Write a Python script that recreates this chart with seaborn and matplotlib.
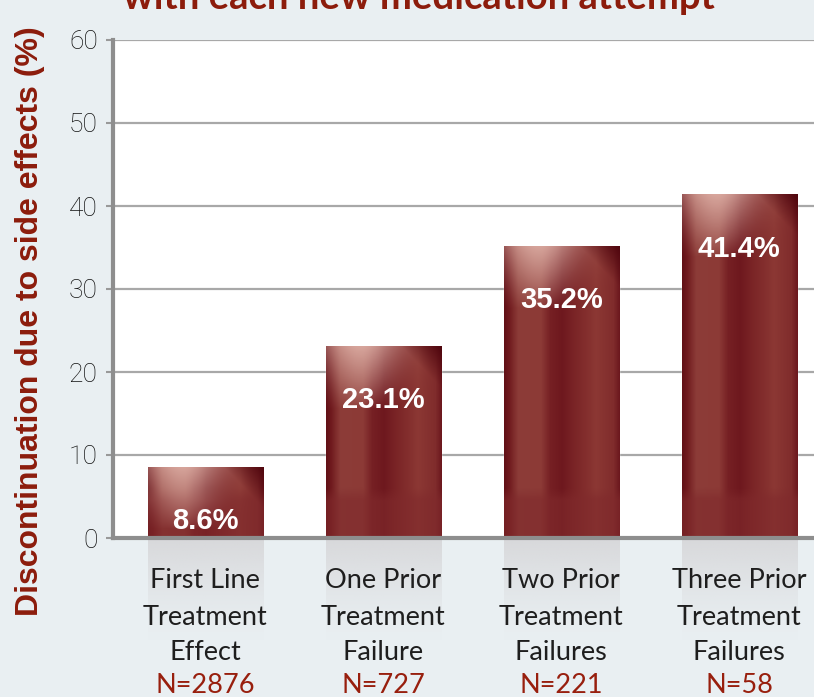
import numpy as np
import pandas as pd
import matplotlib
matplotlib.use("Agg")
import matplotlib.pyplot as plt
import seaborn as sns

# data
categories = ["First Line\nTreatment\nEffect",
              "One Prior\nTreatment\nFailure",
              "Two Prior\nTreatment\nFailures",
              "Three Prior\nTreatment\nFailures"]
discontinuation = [8.6, 23.1, 35.2, 41.4]
n_patients = [2876, 727, 221, 58]
y_ticks = [0, 10, 20, 30, 40, 50, 60]

BG = "#e9eff2"
DARK_RED = "#8c1c0c"
N_RED = "#981f0e"

sns.set_theme(style="white")
plt.rcParams["font.family"] = ["Lato", "DejaVu Sans"]

df = pd.DataFrame({"cat": range(len(categories)), "value": discontinuation})

fig = plt.figure(figsize=(8.14, 6.97), dpi=100)
fig.patch.set_facecolor(BG)
ax = fig.add_axes([113 / 814, 1 - 538 / 697, 1 - 113 / 814, 498 / 697])
ax.set_facecolor("white")

sns.barplot(data=df, x="cat", y="value", color="#7a1c22", width=0.646,
            saturation=1, ax=ax, zorder=3)


def bar_image(h, nrows=300, ncols=120):
    # glossy dark-red fill: vertical stripes + pale glow at the top
    u = np.linspace(0, 1, ncols)
    d = np.linspace(0, h, nrows)[:, None]
    pu = [0, 0.04, 0.12, 0.32, 0.40, 0.50, 0.60, 0.80, 0.95, 1]
    R = np.interp(u, pu, [98, 112, 140, 140, 118, 110, 122, 140, 128, 108])
    G = np.interp(u, pu, [16, 26, 60, 58, 32, 24, 36, 56, 44, 24])
    B = np.interp(u, pu, [22, 30, 56, 54, 36, 30, 38, 52, 44, 30])
    img = np.stack([np.tile(R, (nrows, 1)), np.tile(G, (nrows, 1)),
                    np.tile(B, (nrows, 1))], axis=-1)
    # flatter lower band
    low = np.clip((d - (h - 6.0)) / 1.5, 0, 1)[..., None]
    img = img * (1 - 0.6 * low) + np.array([128, 42, 44]) * 0.6 * low
    # pale glow at top, narrowing downwards
    width = 0.36 - 0.02 * d
    glow = np.exp(-((u - 0.30) / np.clip(width, 0.05, None)) ** 2)
    glow = glow * np.clip(1 - d / 7.5, 0, 1) ** 0.8
    glow = (0.9 * glow)[..., None]
    img = img * (1 - glow) + np.array([224, 178, 168]) * glow
    # dark top-right corner
    corner = np.clip(1 - ((1 - u) / 0.35 + d / 5.0), 0, 1)[..., None]
    img = img * (1 - corner) + np.array([80, 6, 14]) * corner
    return np.clip(img, 0, 255).astype(np.uint8)


def reflection_image(nrows=100):
    a = np.linspace(0.75, 0.0, nrows) ** 1.3
    img = np.zeros((nrows, 2, 4))
    img[..., 0] = 208 / 255
    img[..., 1] = 206 / 255
    img[..., 2] = 208 / 255
    img[..., 3] = a[:, None]
    return img


for patch in ax.patches:
    x0, w, h = patch.get_x(), patch.get_width(), patch.get_height()
    im = ax.imshow(bar_image(h), extent=[x0, x0 + w, 0, h], origin="upper",
                   aspect="auto", zorder=4, interpolation="bilinear")
    im.set_clip_path(patch)
    ax.imshow(reflection_image(), extent=[x0, x0 + w, -12.5, 0], origin="upper",
              aspect="auto", zorder=1, clip_on=False, interpolation="bilinear")

for i, v in enumerate(discontinuation):
    ax.annotate(f"{v}%", (i, v), xytext=(0, -39), textcoords="offset points",
                ha="center", va="center", color="white", fontsize=21,
                fontweight="bold", fontstretch="condensed", zorder=6,
                family=["Liberation Sans Narrow", "Liberation Sans", "DejaVu Sans"])

ax.set_xlim(-0.517, 3.42)
ax.set_ylim(0, 60)
ax.set_yticks(y_ticks)
ax.set_yticklabels([str(t) for t in y_ticks], fontsize=19, color="#111111",
                   fontweight="light", family=["Roboto", "DejaVu Sans"])
ax.tick_params(axis="y", length=5, width=1.5, color="#999999", pad=6, left=True)
ax.set_xticks([])
ax.set_xlabel("")
ax.set_ylabel("")
ax.yaxis.grid(True, color="#a8a8a8", linewidth=1.6, zorder=0)
ax.set_axisbelow(True)
for s in ["top", "right"]:
    ax.spines[s].set_visible(False)
for s in ["left", "bottom"]:
    ax.spines[s].set_color("#8e8e8e")
    ax.spines[s].set_linewidth(3)
    ax.spines[s].set_zorder(5)

# category labels (3 lines) and N counts below
line_y = [-0.1004, -0.1747, -0.2450]
tr = ax.get_xaxis_transform()
for i, (lab, n) in enumerate(zip(categories, n_patients)):
    for line, yy in zip(lab.split("\n"), line_y):
        ax.text(i, yy, line, transform=tr, ha="center", va="baseline",
                fontsize=19.5, color="#1e1e1e", clip_on=False, zorder=7)
    ax.text(i, -0.3112, f"N={n}", transform=tr, ha="center", va="baseline",
            fontsize=19.5, color=N_RED, clip_on=False, zorder=7)

fig.text(30 / 814, 1 - 321 / 697, "Discontinuation due to side effects (%)",
         rotation=90, ha="center", va="center", fontsize=23, fontweight="bold",
         color=DARK_RED, family=["Liberation Sans", "DejaVu Sans"])
fig.text(419 / 814, 1 - 9 / 697, "with each new medication attempt",
         ha="center", va="baseline", fontsize=27.5, fontweight="bold",
         color=DARK_RED)

fig.savefig("out.png", dpi=100, facecolor=BG)
